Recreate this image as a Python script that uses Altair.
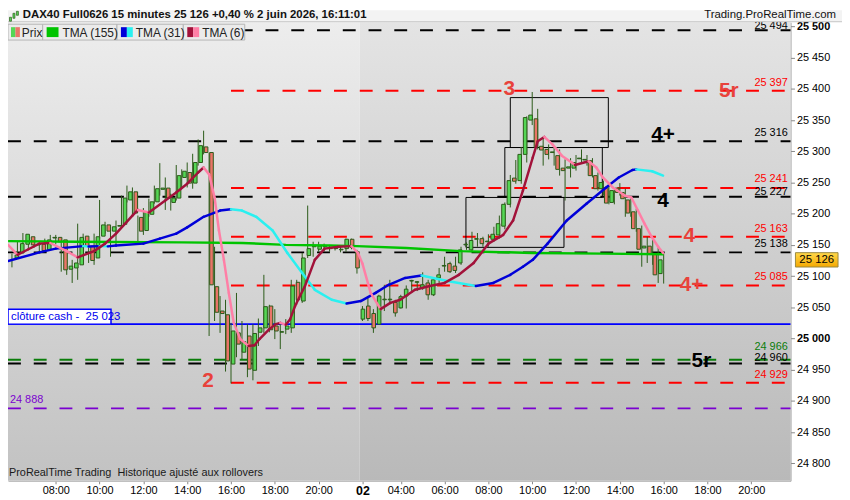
import altair as alt
import pandas as pd

# ---------------- data ----------------
OPEN = [25129, 25137, 25151, 25163, 25151, 25151, 25142, 25161, 25162, 25158,
        25111, 25113, 25118, 25164, 25148, 25129, 25164, 25182, 25172, 25180,
        25183, 25222, 25235, 25194, 25173, 25199, 25219, 25239, 25241, 25218,
        25225, 25258, 25266, 25249, 25282, 25307, 25298, 25083, 25044, 25038,
        24959, 25009, 24978, 25004, 24949, 25010, 25017, 25052, 25020, 25010,
        25015, 25017, 25090, 25060, 25133, 25148, 25143, 25147, 25144, 25144,
        25142, 25144, 25159, 25139,
        25031, 25052, 25040, 25023, 25062, 25062, 25058, 25049, 25068, 25092,
        25090, 25081, 25089, 25070, 25097, 25116, 25120, 25116, 25121, 25150,
        25142, 25159, 25160, 25155, 25159, 25166, 25180, 25215, 25257, 25253,
        25295, 25350, 25352, 25308, 25303, 25298, 25293, 25273, 25273, 25273,
        25288, 25286, 25285, 25261, 25240, 25242, 25218, 25241, 25234, 25222,
        25203, 25176, 25145, 25148, 25135, 25104]
HIGH = [25136, 25155, 25169, 25165, 25154, 25153, 25160, 25166, 25166, 25160,
        25126, 25126, 25184, 25168, 25152, 25168, 25222, 25187, 25179, 25189,
        25229, 25245, 25242, 25197, 25209, 25224, 25245, 25281, 25258, 25232,
        25278, 25271, 25282, 25296, 25319, 25333, 25298, 25147, 25068, 25062,
        25025, 25073, 25028, 25023, 25023, 25032, 25102, 25054, 25047, 25023,
        25031, 25094, 25094, 25137, 25213, 25155, 25155, 25152, 25150, 25148,
        25147, 25160, 25160, 25142,
        25052, 25068, 25047, 25070, 25086, 25094, 25062, 25070, 25085, 25094,
        25092, 25106, 25094, 25095, 25113, 25131, 25123, 25131, 25147, 25154,
        25171, 25169, 25163, 25167, 25179, 25197, 25218, 25262, 25286, 25307,
        25356, 25395, 25368, 25322, 25311, 25308, 25303, 25287, 25289, 25294,
        25303, 25294, 25289, 25266, 25253, 25248, 25238, 25249, 25240, 25226,
        25208, 25181, 25163, 25158, 25147, 25136]
LOW = [25114, 25135, 25147, 25144, 25145, 25139, 25139, 25158, 25151, 25107,
       25102, 25089, 25094, 25144, 25121, 25118, 25160, 25168, 25131, 25147,
       25180, 25218, 25197, 25155, 25166, 25195, 25216, 25229, 25206, 25205,
       25221, 25242, 25242, 25240, 25277, 25295, 25004, 25028, 25009, 24947,
       24928, 24970, 24967, 24938, 24933, 24988, 25009, 25010, 24999, 24983,
       25007, 25009, 25054, 25057, 25129, 25131, 25139, 25139, 25139, 25141,
       25138, 25139, 25143, 25104,
       25028, 25028, 25009, 25023, 25044, 25058, 25035, 25048, 25048, 25073,
       25076, 25078, 25062, 25068, 25089, 25107, 25105, 25105, 25118, 25142,
       25139, 25147, 25147, 25147, 25155, 25160, 25175, 25210, 25248, 25248,
       25282, 25342, 25303, 25277, 25287, 25277, 25261, 25221, 25258, 25269,
       25282, 25277, 25258, 25237, 25229, 25215, 25215, 25229, 25195, 25195,
       25171, 25115, 25121, 25118, 25089, 25088]
CLOSE = [25134, 25152, 25167, 25150, 25150, 25141, 25158, 25162, 25155, 25110,
         25116, 25121, 25162, 25148, 25125, 25163, 25182, 25172, 25179, 25181,
         25225, 25235, 25201, 25172, 25203, 25219, 25240, 25241, 25225, 25225,
         25261, 25268, 25249, 25282, 25309, 25298, 25086, 25042, 25040, 24964,
         25012, 24991, 24995, 24951, 25008, 25017, 25051, 25014, 25012, 25011,
         25020, 25084, 25062, 25129, 25144, 25147, 25148, 25148, 25145, 25145,
         25143, 25159, 25146, 25113,
         25047, 25032, 25017, 25068, 25063, 25063, 25041, 25067, 25079, 25093,
         25091, 25086, 25070, 25094, 25102, 25117, 25107, 25109, 25142, 25151,
         25157, 25160, 25152, 25156, 25167, 25184, 25215, 25253, 25252, 25295,
         25354, 25358, 25306, 25302, 25295, 25299, 25271, 25269, 25275, 25282,
         25289, 25287, 25261, 25240, 25250, 25217, 25237, 25234, 25224, 25201,
         25176, 25143, 25148, 25135, 25102, 25126]

DAY1_START = "2026-06-01 06:00"
DAY2_START = "2026-06-02 02:15"
N_DAY1 = 64

TICK_BARS = [8, 16, 24, 32, 40, 48, 56, 64, 71, 79, 87, 95, 103, 111, 119, 127, 135]
TICK_LABELS = ["08:00", "10:00", "12:00", "14:00", "16:00", "18:00", "20:00", "02",
               "04:00", "06:00", "08:00", "10:00", "12:00", "14:00", "16:00", "18:00", "20:00"]

TMA155_BAR = [-0.7, 12, 31, 42, 50, 58, 63, 72, 82, 95, 108, 119]
TMA155_VAL = [25156, 25155, 25154, 25153, 25150, 25149, 25148, 25145, 25140, 25137, 25136, 25135]

TMA31_BAR = [-0.7, 5, 8, 13, 14, 16, 17.5, 19, 24, 27, 30, 32, 35, 38, 40, 42, 44.6, 47.6,
             50.3, 53, 55.3, 58.4, 61.1, 63.7, 66.4, 68.8, 71.8, 74.8, 79.5, 84.7, 87.9,
             91, 93.3, 95.1, 97.8, 101.3, 104.9, 108.5, 110.8, 113.3, 114, 116.9, 118.9]
TMA31_VAL = [25124, 25138, 25144, 25148, 25147.5, 25148, 25147.6, 25149, 25152, 25160,
             25168, 25178, 25195, 25205, 25207, 25205, 25195, 25173, 25137, 25105, 25078,
             25062, 25056, 25060, 25073, 25086, 25097, 25101, 25092, 25084, 25089, 25102,
             25115, 25126, 25152, 25189, 25216, 25242, 25258, 25270, 25271, 25268, 25261]

TMA6_BAR = [-0.7, 1, 3, 5, 7, 10, 12, 15, 17, 19, 22, 23, 25, 28, 30, 32, 34, 35, 36, 37,
            37.8, 38.7, 39.6, 40.5, 41.7, 43.2, 44.3, 45.2, 47, 48.2, 49, 50, 50.8, 51.7,
            53.5, 55.3, 57.1, 59.6, 62, 63.2, 64, 65.5, 67.3, 69.1, 70.9, 73.6, 76.3, 79,
            81.6, 84.3, 87, 89.7, 91.5, 93.3, 95.1, 96, 97.2, 98.7, 100.4, 102.2, 102.8,
            105.3, 106.7, 107.9, 109.7, 111.9, 113.1, 114.3, 115.5, 116.8, 118, 118.9]
TMA6_VAL = [25150, 25134, 25143, 25152, 25153, 25140, 25130, 25140, 25152, 25168, 25197,
            25206, 25202, 25221, 25234, 25248, 25266, 25274, 25263, 25226, 25173, 25126,
            25073, 25025, 24999, 24988, 24989, 24999, 25015, 25023, 25025, 25022, 25031,
            25052, 25084, 25126, 25144, 25147, 25148, 25137, 25120, 25073, 25047, 25057,
            25062, 25078, 25084, 25089, 25102, 25121, 25152, 25166, 25189, 25237, 25290,
            25316, 25323, 25311, 25293, 25282, 25278, 25284, 25274, 25258, 25242, 25229,
            25226, 25205, 25184, 25163, 25147, 25137]

LEVEL_VALUES = [25494, 25397, 25316, 25241, 25227, 25163, 25138, 25085, 24966, 24960, 24929, 24888]
LEVEL_KIND = ["black", "red", "black", "red", "black", "red", "black", "red", "green", "black", "red", "purple"]
RED_LEVEL_START_BAR = 40
CASH_CLOSE = 25023
LAST_PRICE = 25126

BOX_START = [82.9, 90.0, 91.0]
BOX_END = [100.8, 107.8, 108.9]
BOX_LOW = [25146, 25226, 25306]
BOX_HIGH = [25226, 25306, 25386]

ANNOT_TEXT = ["3", "5r", "4+", "4", "4", "4+", "5r", "2"]
ANNOT_BAR = [90.8, 130.9, 118.9, 118.9, 123.7, 124.1, 125.9, 35.8]
ANNOT_PRICE = [25400, 25397, 25326, 25221, 25164, 25086, 24964, 24931]
ANNOT_KIND = ["ann", "ann", "black", "black", "ann", "ann", "black", "ann"]

NB = "\u00a0"
HEADER = "DAX40 Full0626 15 minutes 25 126 +0,40 % 2 juin 2026, 16:11:01"
SITE = "Trading.ProRealTime.com"
FOOTER = "ProRealTime Trading" + NB + NB + "Historique ajusté aux rollovers"
CASH_LABEL = "clôture cash -" + NB + NB + "25 023"
LEGEND_NAMES = ["Prix", "TMA (155)", "TMA (31)", "TMA (6)"]

# ---------------- layout / style ----------------
W, H = 790, 463
X_DOM = [-0.72, 142.16]
Y_DOM = [24771.9, 25506.8]
PX_PER_PT = H / (Y_DOM[1] - Y_DOM[0])
FONT = "Liberation Sans"
WICK = "#2b5a18"
UP_FILL = "#55d655"
DOWN_FILL = "#ea7468"
COLORS = {"black": "#000000", "red": "#ff0000", "green": "#0a7d0a", "purple": "#7a00d0",
          "ann": "#e8423b"}
# pixel lift of each level label above its line
LABEL_LIFT = {25494: 4, 25397: 8, 25316: 8, 25241: 9.5, 25227: 5, 25163: 8, 25138: 8,
              25085: 8, 24966: 13, 24960: 5.5, 24929: 8, 24888: 8}

xs = alt.Scale(domain=X_DOM, nice=False, zero=False)
ys = alt.Scale(domain=Y_DOM, nice=False, zero=False)


def XD(f):
    return alt.X(f, type="quantitative", scale=xs, axis=None)


def YD(f):
    return alt.Y(f, type="quantitative", scale=ys, axis=None)


def XP(f):
    return alt.X(f, type="quantitative", scale=None, axis=None)


def YP(f):
    return alt.Y(f, type="quantitative", scale=None, axis=None)


def COL(f="col"):
    return alt.Color(f, type="nominal", scale=None)


def fmt(v):
    s = str(int(v))
    return s[:2] + " " + s[2:]


# ---------------- tables ----------------
times = list(pd.date_range(DAY1_START, periods=N_DAY1, freq="15min").strftime("%d %H:%M")) + \
    list(pd.date_range(DAY2_START, periods=len(OPEN) - N_DAY1, freq="15min").strftime("%d %H:%M"))
cdf = pd.DataFrame({"i": range(len(OPEN)), "t": times, "o": OPEN, "h": HIGH, "l": LOW, "c": CLOSE})
cdf["col"] = [UP_FILL if c >= o else DOWN_FILL for o, c in zip(OPEN, CLOSE)]


def segments(bars, vals, up, down):
    rows = []
    for k in range(len(bars) - 1):
        rows.append({"x": bars[k], "x2": bars[k + 1], "y": vals[k], "y2": vals[k + 1],
                     "col": up if vals[k + 1] >= vals[k] else down})
    return pd.DataFrame(rows)


seg31 = segments(TMA31_BAR, TMA31_VAL, "#0000d8", "#2af0f0")
seg6 = segments(TMA6_BAR, TMA6_VAL, "#a2123a", "#ff7fa6")
df155 = pd.DataFrame({"b": TMA155_BAR, "v": TMA155_VAL})

lv = pd.DataFrame({"v": LEVEL_VALUES, "kind": LEVEL_KIND})
lv["col"] = [COLORS[k] for k in LEVEL_KIND]
lv["x"] = [RED_LEVEL_START_BAR if k == "red" else X_DOM[0] for k in LEVEL_KIND]
lv["x2"] = X_DOM[1]
lv["lab"] = [fmt(v) for v in LEVEL_VALUES]
lv["ly"] = [v + LABEL_LIFT[v] / PX_PER_PT for v in LEVEL_VALUES]
lv_right = lv[lv["kind"] != "purple"].copy()
lv_right["lx"] = X_DOM[1] - 0.5
lv_left = lv[lv["kind"] == "purple"].copy()
lv_left["lx"] = X_DOM[0]

boxes = pd.DataFrame({"x": BOX_START, "x2": BOX_END, "y": BOX_LOW, "y2": BOX_HIGH})
ann = pd.DataFrame({"t": ANNOT_TEXT, "x": ANNOT_BAR, "y": ANNOT_PRICE,
                    "col": [COLORS[k] for k in ANNOT_KIND]})
one = pd.DataFrame({"a": [0]})

# ---------------- layers ----------------
grad = lambda top, bottom: alt.LinearGradient(
    gradient="linear", x1=0, x2=0, y1=0, y2=1,
    stops=[alt.GradientStop(color=top, offset=0), alt.GradientStop(color=bottom, offset=1)])

bg1 = alt.Chart(pd.DataFrame({"x": [X_DOM[0]], "x2": [N_DAY1 - 0.5]})).mark_rect(
    fill=grad("#ededed", "#c2c2c2")).encode(x=XD("x"), x2="x2", y=alt.value(0), y2=alt.value(H))
bg2 = alt.Chart(pd.DataFrame({"x": [N_DAY1 - 0.5], "x2": [X_DOM[1]]})).mark_rect(
    fill=grad("#e4e4e4", "#b9b9b9")).encode(x=XD("x"), x2="x2", y=alt.value(0), y2=alt.value(H))

levels = alt.Chart(lv).mark_rule(strokeWidth=2, strokeDash=[13, 13]).encode(
    x=XD("x"), x2="x2", y=YD("v"), color=COL())
cash_line = alt.Chart(pd.DataFrame({"x": [X_DOM[0]], "x2": [X_DOM[1]], "v": [CASH_CLOSE]})).mark_rule(
    strokeWidth=2, color="#0000ff").encode(x=XD("x"), x2="x2", y=YD("v"))

box_layer = alt.Chart(boxes).mark_rect(fill=None, stroke="#000000", strokeWidth=1).encode(
    x=XD("x"), x2="x2", y=YD("y"), y2="y2")

wicks = alt.Chart(cdf).mark_rule(color=WICK, strokeWidth=1).encode(
    x=alt.X("i:Q", scale=xs, title=None, axis=alt.Axis(
        values=TICK_BARS,
        labelExpr="[" + ",".join("'%s'" % s for s in TICK_LABELS) + "][indexof([" +
                  ",".join(str(b) for b in TICK_BARS) + "], datum.value)]",
        labelFont=FONT, labelFontSize={"condition": {"test": "datum.value == 64", "value": 12.5}, "value": 11},
        labelFontWeight={"condition": {"test": "datum.value == 64", "value": "bold"}, "value": "normal"},
        labelColor="#000000", tickColor="#888888", tickSize=3, labelPadding=1,
        domainColor="#b0b0b0", grid=False, labelFlush=False, labelOverlap=False)),
    y=alt.Y("l:Q", scale=ys, title=None, axis=alt.Axis(
        orient="right", values=list(range(24800, 25501, 50)),
        labelExpr="substring(toString(datum.value),0,2) + ' ' + substring(toString(datum.value),2)",
        labelFont=FONT, labelFontSize=11,
        labelFontWeight={"condition": {"test": "datum.value % 500 == 0", "value": "bold"}, "value": "normal"},
        labelColor="#000000", tickColor="#888888", tickSize=4, labelPadding=2,
        domainColor="#999999", grid=False, labelFlush=False, labelOverlap=False)),
    y2="h:Q")

bodies = alt.Chart(cdf).mark_bar(width=3.6, stroke=WICK, strokeWidth=1).encode(
    x=XD("i"), y=YD("o"), y2="c", color=COL())

tma155 = alt.Chart(df155).mark_line(color="#00c400", strokeWidth=2.5).encode(x=XD("b"), y=YD("v"))
tma31 = alt.Chart(seg31).mark_rule(strokeWidth=2.5, strokeCap="round").encode(
    x=XD("x"), x2="x2", y=YD("y"), y2="y2", color=COL())
tma6 = alt.Chart(seg6).mark_rule(strokeWidth=2.5, strokeCap="round").encode(
    x=XD("x"), x2="x2", y=YD("y"), y2="y2", color=COL())

right_labels = alt.Chart(lv_right).mark_text(align="right", baseline="middle", font=FONT,
                                             fontSize=11).encode(
    x=XD("lx"), y=YD("ly"), text="lab:N", color=COL())
left_labels = alt.Chart(lv_left).mark_text(align="left", baseline="middle", dx=2, font=FONT,
                                           fontSize=11).encode(
    x=XD("lx"), y=YD("ly"), text="lab:N", color=COL())

cash_box = alt.Chart(pd.DataFrame({"px": [0], "px2": [104], "v": [CASH_CLOSE], "v2": [CASH_CLOSE + 24]})).mark_rect(
    fill="#ffffff", stroke="#0000ff", strokeWidth=1.5).encode(x=XP("px"), x2="px2", y=YD("v"), y2="v2")
cash_text = alt.Chart(pd.DataFrame({"px": [3], "v": [CASH_CLOSE + 12], "t": [CASH_LABEL]})).mark_text(
    align="left", baseline="middle", font=FONT, fontSize=11.5, color="#0000ee").encode(
    x=XP("px"), y=YD("v"), text="t:N")

annots = alt.Chart(ann).mark_text(align="center", baseline="middle", font=FONT, fontSize=21,
                                  fontWeight="bold").encode(
    x=XD("x"), y=YD("y"), text="t:N", color=COL())

price_box = alt.Chart(pd.DataFrame({"px": [W + 5], "px2": [W + 48], "v": [LAST_PRICE]})).transform_calculate(
    lo="datum.v - 11.5", hi="datum.v + 11.5").mark_rect(
    fill=grad("#ffd84a", "#f4a800"), stroke="#9a8a40", strokeWidth=1).encode(
    x=XP("px"), x2="px2", y=YD("lo"), y2="hi")
price_text = alt.Chart(pd.DataFrame({"px": [W + 26.5], "v": [LAST_PRICE]})).transform_calculate(
    t="substring(toString(datum.v),0,2) + ' ' + substring(toString(datum.v),2)").mark_text(
    align="center", baseline="middle", font=FONT, fontSize=11.5, color="#000000").encode(
    x=XP("px"), y=YD("v"), text="t:N")

footer = alt.Chart(pd.DataFrame({"px": [1], "py": [H - 8], "t": [FOOTER]})).mark_text(
    align="left", baseline="middle", font=FONT, fontSize=11, color="#1a1a1a").encode(
    x=XP("px"), y=YP("py"), text="t:N")

# header strip
head_bg = alt.Chart(one).mark_rect(fill="#f3f3f3").encode(
    x=alt.value(0), x2=alt.value(W + 52), y=alt.value(-12), y2=alt.value(-0.5))
head_line = alt.Chart(one).mark_rule(color="#c4c4c4", strokeWidth=1).encode(
    x=alt.value(0), x2=alt.value(W + 52), y=alt.value(-0.5))
head_text = alt.Chart(pd.DataFrame({"px": [15], "py": [-7.5], "t": [HEADER]})).mark_text(
    align="left", baseline="middle", font=FONT, fontSize=11.5, fontWeight="bold", color="#111111").encode(
    x=XP("px"), y=YP("py"), text="t:N")
site_text = alt.Chart(pd.DataFrame({"px": [W + 46], "py": [-7.5], "t": [SITE]})).mark_text(
    align="right", baseline="middle", font=FONT, fontSize=11.5, color="#111111").encode(
    x=XP("px"), y=YP("py"), text="t:N")
icon = alt.Chart(pd.DataFrame({"px": [1.5, 5, 8.5], "px2": [3.5, 7, 10.5],
                               "py": [-5, -9, -11], "py2": [-1, -4, -7]})).mark_rect(
    fill="#57d657", stroke=WICK, strokeWidth=0.7).encode(x=XP("px"), x2="px2", y=YP("py"), y2="py2")

# legend boxes
leg_boxes = alt.Chart(pd.DataFrame({"px": [0, 35, 110, 177], "px2": [35, 110, 177, 239]})).mark_rect(
    fill="#ebebeb", stroke="#b5b5b5", strokeWidth=1).encode(
    x=XP("px"), x2="px2", y=alt.value(2), y2=alt.value(18))
leg_sw = alt.Chart(pd.DataFrame({
    "px": [3, 7.5, 39, 114, 120, 181, 187],
    "px2": [7.5, 12, 51, 120, 126, 187, 193],
    "col": [UP_FILL, DOWN_FILL, "#00c400", "#0000d8", "#2af0f0", "#a2123a", "#ff7fa6"]})).mark_rect().encode(
    x=XP("px"), x2="px2", y=alt.value(5), y2=alt.value(15), color=COL())
leg_text = alt.Chart(pd.DataFrame({"px": [14, 55, 129, 196], "t": LEGEND_NAMES})).mark_text(
    align="left", baseline="middle", font=FONT, fontSize=12, color="#222222").encode(
    x=XP("px"), y=alt.value(10.5), text="t:N")

chart = alt.layer(
    bg1, bg2, levels, cash_line, box_layer, wicks, bodies, tma155, tma31, tma6,
    right_labels, left_labels, cash_box, cash_text, annots, footer,
    head_bg, head_line, head_text, site_text, icon,
    leg_boxes, leg_sw, leg_text, price_box, price_text,
).resolve_scale(x="independent", y="independent", color="independent").properties(
    width=W, height=H,
    padding={"left": 0, "top": 12, "right": 52, "bottom": 17},
    autosize=alt.AutoSizeParams(type="none"),
    background="#ffffff",
).configure_view(stroke=None)

chart.save("out.html", embed_options={"renderer": "svg", "actions": False})
